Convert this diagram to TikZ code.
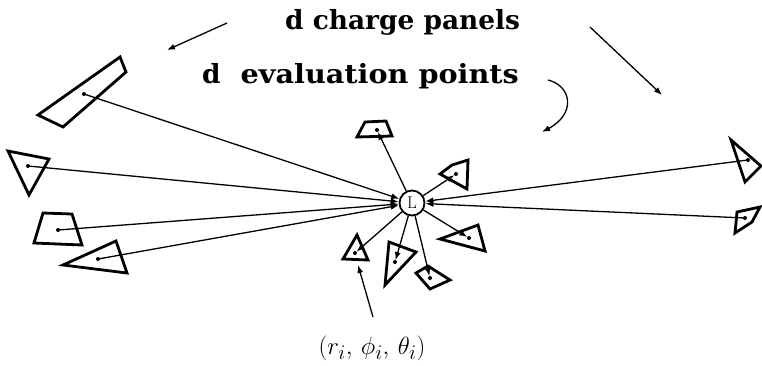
\documentclass[tikz,border=0pt]{standalone}
\usepackage{fontspec}
\newfontfamily\headfont{DejaVu Serif}
\usetikzlibrary{arrows.meta}
\begin{document}
\begin{tikzpicture}[x=1pt,y=-1pt,
  panel/.style={line width=2.8pt,line join=miter},
  ray/.style={line width=1.3pt,-{Latex[length=8pt,width=6pt]}},
  headtext/.style={font=\headfont\bfseries\fontsize{26.4}{30}\selectfont,inner sep=0pt,anchor=base west},
  lab/.style={font=\fontsize{32}{35}\selectfont,inner sep=0pt}
]
\useasboundingbox (0,0) rectangle (762,365);
% center
\node[circle,draw,line width=1.8pt,minimum size=25pt,inner sep=0pt,font=\fontsize{17}{17}\selectfont] (L) at (412,203) {L};
% dot coordinates
\coordinate (d1) at (84,94);
\coordinate (d2) at (28,166);
\coordinate (d3) at (58,230);
\coordinate (d4) at (98,259);
\coordinate (d5) at (748,160);
\coordinate (d6) at (745,218);
\coordinate (d7) at (377,130);
\coordinate (d8) at (456,174);
\coordinate (d9) at (469,238);
\coordinate (d10) at (395,262);
\coordinate (d11) at (430,278);
\coordinate (d12) at (355,253);
% panels
\draw[panel] (38,115) -- (120,57) -- (126,72) -- (63,127) -- cycle;
\draw[panel] (8,151) -- (49,159) -- (29,195) -- cycle;
\draw[panel] (43,213) -- (72,214) -- (82,245) -- (34,243) -- cycle;
\draw[panel] (63,265) -- (116,241) -- (127,273) -- cycle;
\draw[panel] (731,140) -- (761,166) -- (745,182) -- cycle;
\draw[panel] (737,212) -- (760,207) -- (752,222) -- (735,233) -- cycle;
\draw[panel] (365,122) -- (386,121) -- (392,136) -- (357,137) -- cycle;
\draw[panel] (440,174) -- (452,165) -- (468,160) -- (467,189) -- cycle;
\draw[panel] (440,239) -- (478,225) -- (485,251) -- cycle;
\draw[panel] (389,242) -- (416,252) -- (385,285) -- cycle;
\draw[panel] (416,273) -- (428,266) -- (450,280) -- (430,289) -- cycle;
\draw[panel] (343,259) -- (357,235) -- (368,260) -- cycle;
% dots
\foreach \d in {d1,d2,d3,d4,d5,d6,d7,d8,d9,d10,d11,d12}
  \fill (\d) circle (2pt);
% rays into L
\foreach \d in {d1,d2,d3,d4,d5,d6}
  \draw[ray] (\d) -- (L);
% rays out of L
\foreach \d in {d7,d8,d9,d10,d11,d12}
  \draw[ray,shorten >=2pt] (L) -- (\d);
% top texts
\node[headtext] (t1) at (285,29) {d charge panels};
\node[headtext] (t2) at (202,83) {d\hspace{20pt}\scalebox{1.086}[1]{evaluation points}};
% top arrows
\coordinate (a1s) at (227,23); \coordinate (a1e) at (167,50);
\coordinate (a2s) at (590,27); \coordinate (a2e) at (662,95);
\coordinate (a3s) at (548,80); \coordinate (a3e) at (542,132);
\draw[ray] (a1s) -- (a1e);
\draw[ray] (a2s) -- (a2e);
\draw[ray] (a3s) .. controls (572,86) and (576,114) .. (a3e);
% label
\node[lab] (lbl) at (372,348) {$(r_i,\,\phi_i,\,\theta_i)$};
\coordinate (ls) at (373,317);
\draw[ray] (ls) -- (358,265);
\end{tikzpicture}
\end{document}
